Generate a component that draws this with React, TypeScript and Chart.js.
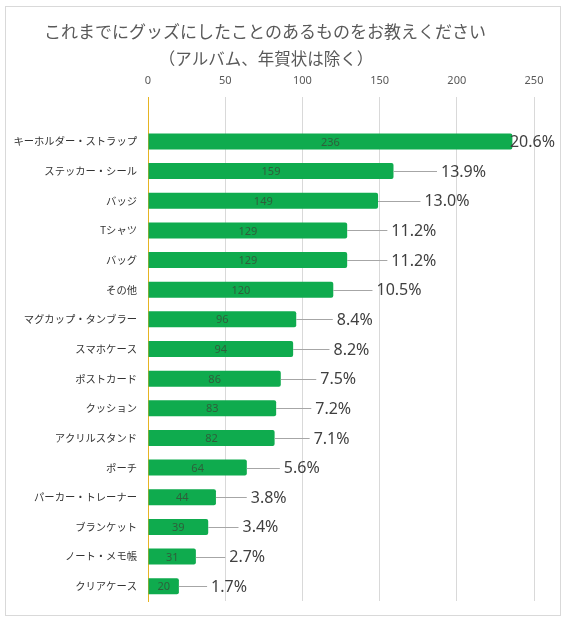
import React, { useEffect, useRef } from "react";
import { Chart, registerables } from "chart.js";

Chart.register(...registerables);

const titleLines = [
  "これまでにグッズにしたことのあるものをお教えください",
  "（アルバム、年賀状は除く）",
];

const categories = [
  "キーホルダー・ストラップ",
  "ステッカー・シール",
  "バッジ",
  "Tシャツ",
  "バッグ",
  "その他",
  "マグカップ・タンブラー",
  "スマホケース",
  "ポストカード",
  "クッション",
  "アクリルスタンド",
  "ポーチ",
  "パーカー・トレーナー",
  "ブランケット",
  "ノート・メモ帳",
  "クリアケース",
];

const counts = [236, 159, 149, 129, 129, 120, 96, 94, 86, 83, 82, 64, 44, 39, 31, 20];

const percents = [20.6, 13.9, 13.0, 11.2, 11.2, 10.5, 8.4, 8.2, 7.5, 7.2, 7.1, 5.6, 3.8, 3.4, 2.7, 1.7];

const xTickValues = [0, 50, 100, 150, 200, 250];

export default function App() {
  const ref = useRef<HTMLCanvasElement | null>(null);

  useEffect(() => {
    if (!ref.current) return;

    const titlePlugin = {
      id: "customTitle",
      afterDraw(chart: any) {
        const ctx = chart.ctx;
        ctx.save();
        ctx.fillStyle = "#595959";
        ctx.textAlign = "center";
        ctx.textBaseline = "middle";
        ctx.font = '17px "Noto Sans CJK JP"';
        ctx.fillText(titleLines[0], 265, 32);
        ctx.font = '16.5px "Noto Sans CJK JP"';
        ctx.fillText(titleLines[1], 266, 59);
        ctx.restore();
      },
    };

    const labelPlugin = {
      id: "barLabels",
      afterDatasetsDraw(chart: any) {
        const ctx = chart.ctx;
        const meta = chart.getDatasetMeta(0);
        ctx.save();
        meta.data.forEach((bar: any, i: number) => {
          if (i === 0) return;
          const idx = i - 1;
          const x = bar.x;
          const y = bar.y;
          const base = bar.base;
          ctx.font = '11px "Noto Sans"';
          ctx.fillStyle = "#2f5e3b";
          ctx.textAlign = "center";
          ctx.textBaseline = "middle";
          ctx.fillText(String(counts[idx]), (x + base) / 2, y + 1);

          const txt = percents[idx].toFixed(1) + "%";
          ctx.font = '16px "Noto Sans"';
          const w = ctx.measureText(txt).width;
          let lx = x + 30 + 0.11 * counts[idx];
          const maxX = 555 - w;
          if (lx > maxX) lx = maxX;
          if (lx - x > 10) {
            ctx.strokeStyle = "#a6a6a6";
            ctx.lineWidth = 1;
            ctx.beginPath();
            ctx.moveTo(x, Math.round(y) + 0.5);
            ctx.lineTo(lx - 4, Math.round(y) + 0.5);
            ctx.stroke();
          }
          ctx.fillStyle = "#404040";
          ctx.textAlign = "left";
          ctx.textBaseline = "middle";
          ctx.fillText(txt, lx, y + 1);
        });
        ctx.restore();
      },
    };

    const chart = new Chart(ref.current, {
      type: "bar",
      data: {
        labels: ["", ...categories],
        datasets: [
          {
            data: [null, ...counts],
            backgroundColor: "#0fab4e",
            borderWidth: 0,
            borderRadius: { topRight: 2, bottomRight: 2, topLeft: 0, bottomLeft: 0 },
            borderSkipped: false,
            barPercentage: 0.54,
            categoryPercentage: 1,
          },
        ],
      },
      options: {
        indexAxis: "y",
        animation: false,
        responsive: false,
        layout: { padding: { top: 0, right: 31, bottom: 21, left: 0 } },
        plugins: {
          legend: { display: false },
          title: { display: false },
          tooltip: { enabled: false },
        },
        scales: {
          x: {
            position: "top",
            min: 0,
            max: 250,
            afterFit(scale: any) {
              scale.height = 97;
            },
            afterBuildTicks(scale: any) {
              scale.ticks = xTickValues.map((v) => ({ value: v }));
            },
            ticks: {
              padding: 10,
              color: "#595959",
              font: { size: 11, family: '"Noto Sans"' },
            },
            grid: {
              drawTicks: false,
              color: (c: any) => (c.tick && c.tick.value === 0 ? "rgba(0,0,0,0)" : "#d9d9d9"),
            },
            border: { display: false },
          },
          y: {
            afterFit(scale: any) {
              scale.width = 148;
            },
            ticks: {
              padding: 11,
              color: "#333333",
              font: { size: 10.3, family: '"Noto Sans CJK JP"' },
            },
            grid: { display: false, drawTicks: false },
            border: { display: true, color: "#e6b422", width: 1 },
          },
        },
      },
      plugins: [titlePlugin, labelPlugin],
    });

    return () => chart.destroy();
  }, []);

  return (
    <div style={{ position: "absolute", left: 0, top: 0, width: 565, height: 622, background: "#fff" }}>
      <div
        style={{
          position: "absolute",
          left: 5,
          top: 6,
          width: 554,
          height: 608,
          border: "1px solid #d9d9d9",
        }}
      />
      <canvas ref={ref} width={565} height={622} style={{ position: "absolute", left: 0, top: 0 }} />
    </div>
  );
}
